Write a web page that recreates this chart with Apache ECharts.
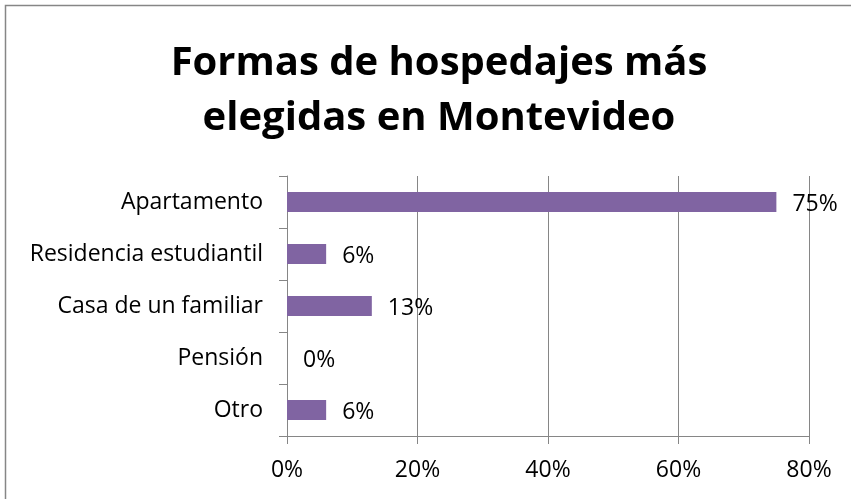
<!DOCTYPE html>
<html>
<head>
<meta charset="utf-8">
<script src="https://cdn.jsdelivr.net/npm/echarts@6/dist/echarts.min.js"></script>
<style>
  html, body { margin: 0; padding: 0; background: #fff; }
  #chart { width: 851px; height: 499px; }
</style>
</head>
<body>
<div id="chart"></div>
<script>
  var categories = ["Apartamento", "Residencia estudiantil", "Casa de un familiar", "Pensión", "Otro"];
  var values = [75, 6, 13, 0, 6];
  var xTicks = [0, 20, 40, 60, 80];

  var FONT = "'Open Sans', 'Noto Sans', sans-serif";
  var GRAY = "#868686";

  var chart = echarts.init(document.getElementById("chart"), null, { renderer: "canvas" });

  chart.setOption({
    backgroundColor: "#fff",
    animation: false,
    title: {
      text: "Formas de hospedajes más\nelegidas en Montevideo",
      left: 434,
      textAlign: "center",
      top: 31,
      textStyle: { color: "#000", fontSize: 40, fontWeight: "bold", fontFamily: FONT, lineHeight: 55 }
    },
    graphic: [{
      type: "rect",
      shape: { x: 5.5, y: 5.5, width: 900, height: 600 },
      style: { fill: "none", stroke: GRAY, lineWidth: 1.5 },
      silent: true
    }],
    grid: { left: 287, right: 42, top: 176, bottom: 63, containLabel: false },
    xAxis: {
      type: "value",
      min: xTicks[0],
      max: xTicks[xTicks.length - 1],
      interval: 20,
      axisLine: { show: true, lineStyle: { color: GRAY, width: 1 } },
      axisTick: { show: true, length: 8, lineStyle: { color: GRAY } },
      splitLine: { show: true, lineStyle: { color: GRAY, width: 1 } },
      axisLabel: { color: "#000", fontSize: 23, fontFamily: FONT, margin: 23, formatter: "{value}%" }
    },
    yAxis: {
      type: "category",
      inverse: true,
      data: categories,
      axisLine: { show: true, lineStyle: { color: GRAY, width: 1 } },
      axisTick: { show: true, length: 8, alignWithLabel: false, lineStyle: { color: GRAY } },
      axisLabel: { color: "#000", fontSize: 23, fontFamily: FONT, margin: 24 }
    },
    series: [{
      type: "bar",
      data: values,
      barWidth: "38%",
      itemStyle: { color: "#8064A2" },
      label: {
        show: true,
        position: "right",
        distance: 16,
        offset: [0, 2],
        color: "#000",
        fontSize: 23,
        fontFamily: FONT,
        formatter: "{c}%"
      }
    }]
  });
</script>
</body>
</html>
